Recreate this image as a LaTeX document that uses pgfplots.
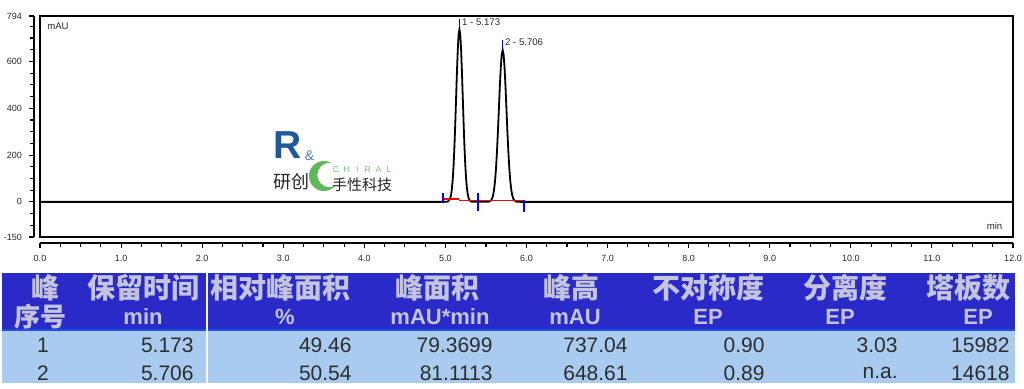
\documentclass[border=0pt]{standalone}
\usepackage{fontspec}
\setmainfont{Liberation Sans}
\newfontfamily\cjk{Noto Sans CJK SC}
\usepackage{pgfplots}
\pgfplotsset{compat=1.18}
\definecolor{hdrblue}{RGB}{42,42,200}
\definecolor{hdrline}{RGB}{30,80,230}
\definecolor{rowblue}{RGB}{169,203,240}
\definecolor{hdrtext}{RGB}{196,196,222}
\definecolor{datatext}{RGB}{45,45,45}
\definecolor{logoblue}{RGB}{30,90,155}
\definecolor{logogreen}{RGB}{95,185,90}
\definecolor{chiralgreen}{RGB}{120,195,120}
\definecolor{axtext}{RGB}{40,40,40}
\begin{document}
\begin{tikzpicture}
\path[use as bounding box] (0,0) rectangle (512pt,-194pt);
% ---------- logo (watermark) ----------
\begin{scope}[x=0.5pt,y=-0.5pt]
\node[font=\bfseries\fontsize{19.5}{20}\selectfont, text=logoblue, inner sep=0] at (288,145) {R};
\node[font=\fontsize{7}{7}\selectfont, text=logoblue!80, inner sep=0] at (309.5,155.5) {\&};
\begin{scope}
\clip (324,176) circle[radius=15];
\fill[logogreen, even odd rule] (324,176) circle[radius=15] (329.5,175) circle[radius=12.2];
\end{scope}
\foreach \l/\xx in {C/336,H/346.6,I/357.2,R/367.8,A/378.4,L/389}
  \node[font=\fontsize{4.3}{5}\selectfont, text=chiralgreen, inner sep=0] at (\xx,170) {\l};
\node[font=\cjk\fontsize{9}{9}\selectfont, text=black!85, inner sep=0] at (291,182) {研创};
\node[font=\cjk\fontsize{7.5}{8}\selectfont, text=black!85, inner sep=0] at (362,185) {手性科技};
\end{scope}
% ---------- chromatogram ----------
\begin{axis}[
  at={(20pt,-8pt)}, anchor=north west,
  scale only axis, width=486.5pt, height=110.5pt,
  xmin=0, xmax=12, ymin=-150, ymax=794,
  clip=false,
  axis x line=bottom, axis y line=left,
  axis line shift=3pt,
  axis line style={-, line width=0.7pt},
  xtick={0,1,2,3,4,5,6,7,8,9,10,11,12},
  xticklabels={0.0,1.0,2.0,3.0,4.0,5.0,6.0,7.0,8.0,9.0,10.0,11.0,12.0},
  minor x tick num=3,
  ytick={-150,0,200,400,600,794},
  yticklabels={-150,0,200,400,600,794},
  minor ytick={-100,-50,50,100,150,250,300,350,450,500,550,650,700,750},
  tick align=outside,
  major tick length=2.5pt, minor tick length=1.8pt,
  tick style={black, line width=0.55pt},
  ticklabel style={font=\fontsize{4.5}{5}\selectfont, text=axtext},
]
\draw[line width=1pt] (rel axis cs:0,0) rectangle (rel axis cs:1,1);
\addplot[black, line width=0.9pt] coordinates {
(0,0) (4.95,0) (5.009,0.25) (5.0295,1.6) (5.050,8.2) (5.06025,16.8) (5.0705,32.4)
(5.08075,58.7) (5.091,99.7) (5.10125,159.4) (5.1115,239.3) (5.12175,337.4)
(5.132,447.0) (5.14225,556.3) (5.1525,650.4) (5.16275,714.3) (5.173,737.0)
(5.18325,714.3) (5.1935,650.4) (5.20375,556.3) (5.214,447.0) (5.22425,337.4)
(5.2345,239.3) (5.24475,159.4) (5.255,99.7) (5.26525,58.7) (5.2755,32.4)
(5.28575,16.8) (5.296,8.2) (5.3165,1.6) (5.337,0.25)
(5.5172,0.2) (5.5408,1.4) (5.5644,7.2) (5.5762,14.8) (5.588,28.5) (5.5998,51.6)
(5.6116,87.8) (5.6234,140.3) (5.6352,210.6) (5.647,296.9) (5.6588,393.4)
(5.6706,489.6) (5.6824,572.4) (5.6942,628.6) (5.706,648.6) (5.7178,628.6)
(5.7296,572.4) (5.7414,489.6) (5.7532,393.4) (5.765,296.9) (5.7768,210.6)
(5.7886,140.3) (5.8004,87.8) (5.8122,51.6) (5.824,28.5) (5.8358,14.8)
(5.8476,7.2) (5.8712,1.4) (5.8948,0.2) (6.0,0) (12,0)
};
\addplot[red, line width=0.9pt] coordinates {(4.97,12) (5.17,12)};
\addplot[red, line width=0.9pt] coordinates {(5.17,6) (5.97,6)};
\addplot[blue, line width=0.8pt] coordinates {(4.97,-4) (4.97,38)};
\addplot[blue, line width=0.8pt] coordinates {(5.40,-38) (5.40,38)};
\addplot[blue, line width=0.8pt] coordinates {(5.97,-43) (5.97,8)};
\addplot[blue, line width=0.8pt] coordinates {(5.173,745) (5.173,780)};
\addplot[blue, line width=0.8pt] coordinates {(5.706,655) (5.706,690)};
\node[anchor=west, inner sep=0.5pt, font=\fontsize{4.8}{5}\selectfont, text=axtext] at (axis cs:5.19,766) {1 - 5.173};
\node[anchor=west, inner sep=0.5pt, font=\fontsize{4.8}{5}\selectfont, text=axtext] at (axis cs:5.72,683) {2 - 5.706};
\node[font=\fontsize{4.8}{5}\selectfont, text=axtext, inner sep=0] at (rel axis cs:0.0185,0.955) {mAU};
\node[font=\fontsize{4.8}{5}\selectfont, text=axtext, inner sep=0] at (rel axis cs:0.981,0.05) {min};
\end{axis}
% ---------- table ----------
\begin{scope}[x=0.5pt,y=-0.5pt]
\fill[hdrblue] (2,273) rectangle (1015,330);
\fill[rowblue] (2,331) rectangle (1015,383);
\draw[hdrline, line width=1pt] (2,330) -- (1015,330);
\draw[white!90!rowblue, line width=1pt] (207,273) -- (207,383);
\tikzset{h1/.style={font=\cjk\bfseries\fontsize{14}{14}\selectfont, text=hdrtext, inner sep=0},
         h2c/.style={font=\cjk\bfseries\fontsize{13}{13}\selectfont, text=hdrtext, inner sep=0},
         h2/.style={font=\bfseries\fontsize{11}{11}\selectfont, text=hdrtext, inner sep=0},
         dt/.style={font=\fontsize{10.5}{11}\selectfont, text=datatext, inner sep=0}}
% header line 1
\node[h1] at (46,288) {峰};
\node[h1] at (143,288) {保留时间};
\node[h1] at (280,288) {相对峰面积};
\node[h1] at (437,288) {峰面积};
\node[h1] at (571,288) {峰高};
\node[h1] at (708,288) {不对称度};
\node[h1] at (845,288) {分离度};
\node[h1] at (968,288) {塔板数};
% header line 2
\node[h2c] at (41,317) {序号};
\node[h2] at (143,317) {min};
\node[h2] at (285,317) {\%};
\node[h2] at (440,317) {mAU*min};
\node[h2] at (575,317) {mAU};
\node[h2] at (708,317) {EP};
\node[h2] at (840,317) {EP};
\node[h2] at (978,317) {EP};
% data rows
\node[dt] at (43,345) {1};
\node[dt, anchor=east] at (194,345) {5.173};
\node[dt, anchor=east] at (352,345) {49.46};
\node[dt, anchor=east] at (493,345) {79.3699};
\node[dt, anchor=east] at (628,345) {737.04};
\node[dt, anchor=east] at (765,345) {0.90};
\node[dt, anchor=east] at (898,345) {3.03};
\node[dt, anchor=east] at (1010,345) {15982};
\node[dt] at (43,373) {2};
\node[dt, anchor=east] at (194,373) {5.706};
\node[dt, anchor=east] at (352,373) {50.54};
\node[dt, anchor=east] at (493,373) {81.1113};
\node[dt, anchor=east] at (628,373) {648.61};
\node[dt, anchor=east] at (765,373) {0.89};
\node[dt, anchor=east] at (898,373) {n.a.};
\node[dt, anchor=east] at (1010,373) {14618};
\end{scope}
\end{tikzpicture}
\end{document}
